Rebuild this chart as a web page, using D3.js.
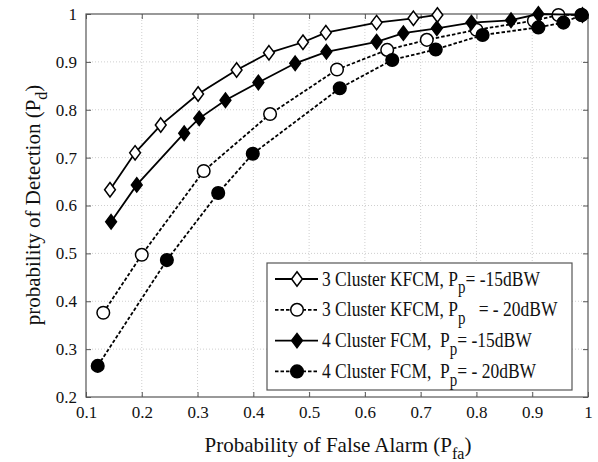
<!DOCTYPE html>
<html>
<head>
<meta charset="utf-8">
<script src="https://cdn.jsdelivr.net/npm/d3@7"></script>
<style>
  body { margin: 0; background: #fff; }
  svg text { font-family: "Liberation Serif", "Times New Roman", serif; fill: #111; }
  .grid line { stroke: #cfcfcf; stroke-dasharray: 1,2; }
</style>
</head>
<body>
<script>
// данные
var xTicks = [0.1, 0.2, 0.3, 0.4, 0.5, 0.6, 0.7, 0.8, 0.9, 1];
var yTicks = [0.2, 0.3, 0.4, 0.5, 0.6, 0.7, 0.8, 0.9, 1];

var kfcm15X = [0.143, 0.188, 0.234, 0.301, 0.370, 0.428, 0.489, 0.530, 0.621, 0.687, 0.730];
var kfcm15Y = [0.633, 0.710, 0.768, 0.833, 0.883, 0.919, 0.941, 0.961, 0.982, 0.991, 0.998];

var kfcm20X = [0.131, 0.200, 0.311, 0.430, 0.550, 0.640, 0.711, 0.800, 0.903, 0.947, 0.988];
var kfcm20Y = [0.376, 0.497, 0.672, 0.791, 0.884, 0.925, 0.946, 0.967, 0.986, 0.998, 0.998];

var fcm15X = [0.145, 0.191, 0.276, 0.303, 0.350, 0.409, 0.475, 0.531, 0.621, 0.669, 0.729, 0.791, 0.862, 0.911, 0.990];
var fcm15Y = [0.566, 0.643, 0.751, 0.782, 0.820, 0.857, 0.897, 0.921, 0.942, 0.960, 0.970, 0.982, 0.987, 1.000, 0.998];

var fcm20X = [0.121, 0.245, 0.337, 0.399, 0.555, 0.649, 0.727, 0.811, 0.911, 0.956, 0.989];
var fcm20Y = [0.265, 0.486, 0.626, 0.708, 0.845, 0.904, 0.926, 0.956, 0.972, 0.982, 0.998];

var series = [
  { xs: kfcm15X, ys: kfcm15Y, marker: 'diamond', fill: '#fff', dash: null, label: ['3 Cluster KFCM, P', 'p', '= -15dBW'] },
  { xs: kfcm20X, ys: kfcm20Y, marker: 'circle', fill: '#fff', dash: '3.5,2', label: ['3 Cluster KFCM, P', 'p', '   = - 20dBW'] },
  { xs: fcm15X, ys: fcm15Y, marker: 'diamond', fill: '#000', dash: null, label: ['4 Cluster FCM,  P', 'p', '= -15dBW'] },
  { xs: fcm20X, ys: fcm20Y, marker: 'circle', fill: '#000', dash: '3.5,2', label: ['4 Cluster FCM,  P', 'p', '= - 20dBW'] }
];

// размеры
var w = 598, h = 462;
var pLeft = 86, pRight = 588, pTop = 14, pBottom = 397;

var svg = d3.select('body').append('svg')
  .attr('width', w)
  .attr('height', h);

var x = d3.scaleLinear().domain([0.1, 1]).range([pLeft, pRight]);
var y = d3.scaleLinear().domain([0.2, 1]).range([pBottom, pTop]);

// сетка
var grid = svg.append('g').attr('class', 'grid');
grid.selectAll('line.vx').data(xTicks.slice(1, -1)).enter().append('line')
  .attr('x1', function(d) { return x(d); }).attr('x2', function(d) { return x(d); })
  .attr('y1', pTop).attr('y2', pBottom);
grid.selectAll('line.hy').data(yTicks.slice(1, -1)).enter().append('line')
  .attr('y1', function(d) { return y(d); }).attr('y2', function(d) { return y(d); })
  .attr('x1', pLeft).attr('x2', pRight);

// оси с тиками внутрь
function styleAxis(g) {
  g.select('.domain').remove();
  g.attr('font-family', null).attr('font-size', null);
  g.selectAll('.tick line').attr('stroke', '#555');
  g.selectAll('text')
    .style('font-family', '"Liberation Serif", "Times New Roman", serif')
    .style('font-size', '17px')
    .attr('fill', '#111');
}
svg.append('g').attr('transform', 'translate(0,' + pBottom + ')')
  .call(d3.axisBottom(x).tickValues(xTicks).tickSize(-5).tickPadding(9).tickFormat(d3.format('~g')))
  .call(styleAxis);
svg.append('g').attr('transform', 'translate(0,' + pTop + ')')
  .call(d3.axisTop(x).tickValues(xTicks).tickSize(-5).tickFormat(''))
  .call(styleAxis);
svg.append('g').attr('transform', 'translate(' + pLeft + ',0)')
  .call(d3.axisLeft(y).tickValues(yTicks).tickSize(-5).tickPadding(9).tickFormat(d3.format('~g')))
  .call(styleAxis);
svg.append('g').attr('transform', 'translate(' + pRight + ',0)')
  .call(d3.axisRight(y).tickValues(yTicks).tickSize(-5).tickFormat(''))
  .call(styleAxis);

svg.append('rect')
  .attr('x', pLeft).attr('y', pTop)
  .attr('width', pRight - pLeft).attr('height', pBottom - pTop)
  .attr('fill', 'none').attr('stroke', '#555').attr('stroke-width', 1.2);

// маркеры
function drawMarker(g, type, fill) {
  if (type === 'diamond') {
    g.append('path').attr('d', 'M0,-7.2L5.4,0L0,7.2L-5.4,0Z')
      .attr('fill', fill).attr('stroke', '#000').attr('stroke-width', 1.5);
  } else {
    g.append('circle').attr('r', 6.3)
      .attr('fill', fill).attr('stroke', '#000').attr('stroke-width', 1.5);
  }
}

var line = d3.line()
  .x(function(d) { return x(d[0]); })
  .y(function(d) { return y(d[1]); });

series.forEach(function(s) {
  var pts = s.xs.map(function(v, i) { return [v, s.ys[i]]; });
  svg.append('path')
    .datum(pts)
    .attr('d', line)
    .attr('fill', 'none')
    .attr('stroke', '#000')
    .attr('stroke-width', 1.8)
    .attr('stroke-dasharray', s.dash);
  pts.forEach(function(p) {
    var g = svg.append('g').attr('transform', 'translate(' + x(p[0]) + ',' + y(p[1]) + ')');
    drawMarker(g, s.marker, s.fill);
  });
});

// легенда
var lg = svg.append('g');
lg.append('rect')
  .attr('x', 267).attr('y', 263).attr('width', 305).attr('height', 127)
  .attr('fill', '#fff').attr('stroke', '#555').attr('stroke-width', 1.2);
series.forEach(function(s, i) {
  var ly = 279 + i * 30.8;
  lg.append('line')
    .attr('x1', 275).attr('x2', 318).attr('y1', ly).attr('y2', ly)
    .attr('stroke', '#000').attr('stroke-width', 1.8)
    .attr('stroke-dasharray', s.dash);
  drawMarker(lg.append('g').attr('transform', 'translate(297,' + ly + ')'), s.marker, s.fill);
  var t = lg.append('text')
    .attr('transform', 'translate(322,' + (ly + 6.5) + ') scale(1,1.2)')
    .style('font-size', '17.5px')
    .style('white-space', 'pre');
  t.append('tspan').text(s.label[0]);
  t.append('tspan').attr('dy', 6.5).style('font-size', '15px').text(s.label[1]);
  t.append('tspan').attr('dy', -6.5).text(s.label[2]);
});

// подписи осей
var xt = svg.append('text')
  .attr('x', 338).attr('y', 452)
  .attr('text-anchor', 'middle')
  .style('font-size', '21px');
xt.append('tspan').text('Probability of False Alarm (P');
xt.append('tspan').attr('dy', 7).style('font-size', '16px').text('fa');
xt.append('tspan').attr('dy', -7).text(')');

var yt = svg.append('text')
  .attr('transform', 'translate(40,205) rotate(-90)')
  .attr('text-anchor', 'middle')
  .style('font-size', '21px');
yt.append('tspan').text('probability of Detection (P');
yt.append('tspan').attr('dy', 7).style('font-size', '16px').text('d');
yt.append('tspan').attr('dy', -7).text(')');
</script>
</body>
</html>
